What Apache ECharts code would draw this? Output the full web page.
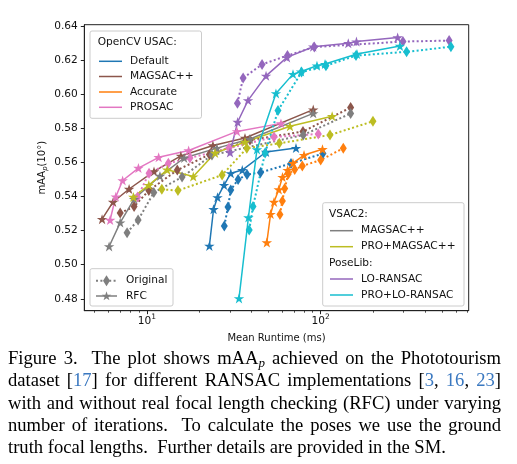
<!DOCTYPE html>
<html><head><meta charset="utf-8">
<script src="https://cdn.jsdelivr.net/npm/echarts@6/dist/echarts.min.js"></script>
<style>
html,body{margin:0;padding:0;background:#fff;}
#chart{position:absolute;left:0;top:0;width:517px;height:464px;}
#cap{position:absolute;left:8px;top:347px;width:493px;font-family:"Liberation Serif","DejaVu Serif",serif;font-size:18.6px;line-height:22.3px;color:#000;}
#cap div{text-align:justify;text-align-last:justify;white-space:normal;height:22.3px;overflow:visible;}
#cap div.last{text-align:left;text-align-last:left;}
#cap .c{color:#3a78c0;}
#cap sub{font-size:70%;line-height:0;vertical-align:-0.25em;}
</style></head><body>
<div id="chart"></div>
<div id="cap">
<div>Figure 3.&nbsp; The plot shows mAA<sub><i>p</i></sub> achieved on the Phototourism</div>
<div>dataset [<span class="c">17</span>] for different RANSAC implementations [<span class="c">3</span>, <span class="c">16</span>, <span class="c">23</span>]</div>
<div>with and without real focal length checking (RFC) under varying</div>
<div>number of iterations.&nbsp; To calculate the poses we use the ground</div>
<div class="last">truth focal lengths.&nbsp; Further details are provided in the SM.</div>
</div>
<script>
// ---- tick values ----
const xTickMajor = [10, 100];
const xTickMinor = [5, 6, 7, 8, 9, 20, 30, 40, 50, 60, 70, 80, 90, 200, 300, 400, 500, 600, 700];
const yTicks = [0.48, 0.50, 0.52, 0.54, 0.56, 0.58, 0.60, 0.62, 0.64];

// ---- OpenCV USAC: Default ----
const defOrigX = [27.9, 29.3, 30.4, 33.5, 37.7, 45.1, 67.5, 103];
const defOrigY = [0.5227, 0.5338, 0.5438, 0.5500, 0.5529, 0.5541, 0.5594, 0.5652];
const defRfcX = [22.9, 24.2, 25.5, 27.8, 30.4, 35.4, 48.5, 72.1];
const defRfcY = [0.5110, 0.5325, 0.5395, 0.5467, 0.5536, 0.5555, 0.5661, 0.5684];
// ---- OpenCV USAC: MAGSAC++ ----
const magOrigX = [7.03, 8.45, 10.27, 14.97, 22.9, 39.2, 79.1, 148.7];
const magOrigY = [0.5303, 0.5341, 0.5435, 0.5555, 0.5646, 0.5731, 0.5781, 0.5922];
const magRfcX = [5.53, 6.40, 7.91, 11.0, 15.7, 24.0, 36.7, 90.6];
const magRfcY = [0.5267, 0.5368, 0.5444, 0.5547, 0.5638, 0.5699, 0.5743, 0.5910];
// ---- OpenCV USAC: Accurate ----
const accOrigX = [58.3, 60.2, 62.1, 65.1, 70.9, 78.4, 100, 134.9];
const accOrigY = [0.5294, 0.5374, 0.5447, 0.5532, 0.5558, 0.5579, 0.5614, 0.5683];
const accRfcX = [49.0, 51.5, 53.9, 57.4, 60.3, 64.5, 69.3, 80.2, 102.4];
const accRfcY = [0.5130, 0.5297, 0.5368, 0.5441, 0.5514, 0.5555, 0.5596, 0.5643, 0.5677];
// ---- OpenCV USAC: PROSAC ----
const proOrigX = [8.85, 10.3, 13.3, 17.7, 29.7, 53.9, 96.9];
const proOrigY = [0.5397, 0.5536, 0.5595, 0.5626, 0.5684, 0.5749, 0.5767];
const proRfcX = [6.15, 6.63, 7.26, 8.95, 11.7, 17.4, 33.0, 59.1];
const proRfcY = [0.5262, 0.5399, 0.5494, 0.5567, 0.5630, 0.5670, 0.5782, 0.5829];
// ---- VSAC2: MAGSAC++ ----
const vmagOrigX = [7.70, 8.91, 10.97, 15.95, 23.7, 79.4, 148.7];
const vmagOrigY = [0.5188, 0.5262, 0.5423, 0.5514, 0.5643, 0.5761, 0.5887];
const vmagRfcX = [6.07, 7.03, 8.45, 11.9, 16.4, 25.3, 39.2, 90.6];
const vmagRfcY = [0.5107, 0.5247, 0.5385, 0.5520, 0.5626, 0.5684, 0.5737, 0.5888];
// ---- VSAC2: PRO+MAGSAC++ ----
const vproOrigX = [12.2, 15.1, 27.1, 37.6, 57.8, 113.1, 199.8];
const vproOrigY = [0.5442, 0.5435, 0.5526, 0.5683, 0.5712, 0.5761, 0.5841];
const vproRfcX = [8.37, 10.27, 13.1, 18.5, 24.7, 36.7, 66.6, 116.4];
const vproRfcY = [0.5397, 0.5467, 0.5557, 0.5517, 0.5655, 0.5720, 0.5812, 0.5871];
// ---- PoseLib: LO-RANSAC ----
const loOrigX = [33.2, 35.8, 46.0, 64.4, 91.9, 297.2, 548];
const loOrigY = [0.5947, 0.6095, 0.6175, 0.6227, 0.6277, 0.6309, 0.6315];
const loRfcX = [30.1, 33.3, 38.2, 48.5, 64.0, 90.6, 144.1, 160.6, 277.1];
const loRfcY = [0.5658, 0.5837, 0.5964, 0.6108, 0.6216, 0.6279, 0.6299, 0.6309, 0.6333];
// ---- PoseLib: PRO+LO-RANSAC ----
const ploOrigX = [38.8, 40.8, 47.9, 56.8, 77.6, 107.2, 159.6, 311.9, 561];
const ploOrigY = [0.5203, 0.5341, 0.5655, 0.5904, 0.6130, 0.6167, 0.6227, 0.6249, 0.6279];
const ploRfcX = [33.9, 38.4, 43.0, 55.3, 69.3, 77.1, 95.2, 105.9, 161.7, 285.6];
const ploRfcY = [0.4802, 0.5277, 0.5676, 0.6005, 0.6118, 0.6133, 0.6167, 0.6177, 0.6236, 0.6283];

const methods = [
  {name: 'Default', color: '#1f77b4', ox: defOrigX, oy: defOrigY, rx: defRfcX, ry: defRfcY},
  {name: 'MAGSAC++ (OpenCV)', color: '#8c564b', ox: magOrigX, oy: magOrigY, rx: magRfcX, ry: magRfcY},
  {name: 'Accurate', color: '#ff7f0e', ox: accOrigX, oy: accOrigY, rx: accRfcX, ry: accRfcY},
  {name: 'PROSAC', color: '#e377c2', ox: proOrigX, oy: proOrigY, rx: proRfcX, ry: proRfcY},
  {name: 'MAGSAC++ (VSAC2)', color: '#7f7f7f', ox: vmagOrigX, oy: vmagOrigY, rx: vmagRfcX, ry: vmagRfcY},
  {name: 'PRO+MAGSAC++', color: '#bcbd22', ox: vproOrigX, oy: vproOrigY, rx: vproRfcX, ry: vproRfcY},
  {name: 'LO-RANSAC', color: '#9467bd', ox: loOrigX, oy: loOrigY, rx: loRfcX, ry: loRfcY},
  {name: 'PRO+LO-RANSAC', color: '#17becf', ox: ploOrigX, oy: ploOrigY, rx: ploRfcX, ry: ploRfcY}
];

const STAR = 'path://M100,0 L122.45,69.1 L195.1,69.1 L136.3,111.8 L158.8,180.9 L100,138.2 L41.2,180.9 L63.7,111.8 L4.9,69.1 L77.55,69.1 Z';
const FONT = '"DejaVu Sans", sans-serif';
const zip = (xs, ys) => xs.map((v, i) => [v, ys[i]]);

const series = [];
methods.forEach(m => {
  series.push({
    name: m.name + ' Original', type: 'line', data: zip(m.ox, m.oy), xAxisIndex: 0,
    symbol: 'diamond', symbolSize: [7, 11], showSymbol: true,
    lineStyle: {color: m.color, width: 2, type: [2, 2.4], cap: 'butt'},
    itemStyle: {color: m.color, borderWidth: 0}, silent: true, animation: false
  });
  series.push({
    name: m.name + ' RFC', type: 'line', data: zip(m.rx, m.ry), xAxisIndex: 0,
    symbol: STAR, symbolSize: 10.5, symbolKeepAspect: true,
    lineStyle: {color: m.color, width: 1.5},
    itemStyle: {color: m.color, borderWidth: 0}, silent: true, animation: false
  });
});

// ---- legend drawing helpers (layout only) ----
const G = [];
function box(x, y, w, h) {
  G.push({type: 'rect', shape: {x, y, width: w, height: h, r: 2}, style: {fill: 'rgba(255,255,255,0.85)', stroke: '#cccccc', lineWidth: 1}, z: 100});
}
function txt(x, y, s) {
  G.push({type: 'text', x, y, style: {text: s, fill: '#111', font: '10.6px ' + FONT, textVerticalAlign: 'middle', verticalAlign: 'middle'}, z: 101});
}
function seg(x1, x2, y, c, dash) {
  G.push({type: 'line', shape: {x1, y1: y, x2, y2: y}, style: {stroke: c, lineWidth: dash ? 2 : 1.5, lineDash: dash ? [2, 2.4] : null}, z: 101});
}
function diamond(cx, cy, c) {
  G.push({type: 'polygon', shape: {points: [[cx, cy - 5.5], [cx + 3.5, cy], [cx, cy + 5.5], [cx - 3.5, cy]]}, style: {fill: c}, z: 102});
}
function star(cx, cy, c) {
  const pts = [];
  for (let i = 0; i < 10; i++) {
    const r = (i % 2 === 0) ? 5 : 1.95;
    const a = -Math.PI / 2 + i * Math.PI / 5;
    pts.push([cx + r * Math.cos(a), cy + 0.3 + r * Math.sin(a)]);
  }
  G.push({type: 'polygon', shape: {points: pts}, style: {fill: c}, z: 102});
}
// Legend 1
box(90, 31, 111.5, 87.3);
txt(97.7, 42.3, 'OpenCV USAC:');
[[61.3, 0, 'Default'], [76.5, 1, 'MAGSAC++'], [92, 2, 'Accurate'], [107.3, 3, 'PROSAC']].forEach(e => {
  seg(99, 122, e[0], methods[e[1]].color, false); txt(130, e[0], e[2]);
});
// Legend 2
box(90, 268.7, 83, 37.3);
seg(96, 117, 280.7, '#7f7f7f', true); diamond(106.5, 280.7, '#7f7f7f'); txt(126, 280.7, 'Original');
seg(96, 117, 296, '#7f7f7f', false); star(106.5, 296, '#7f7f7f'); txt(126, 296, 'RFC');
// Legend 3
box(322.7, 202.7, 141.3, 103.3);
txt(329, 214, 'VSAC2:');
seg(330, 353, 230.7, methods[4].color, false); txt(361, 230.7, 'MAGSAC++');
seg(330, 353, 246.7, methods[5].color, false); txt(361, 246.7, 'PRO+MAGSAC++');
txt(329, 263.3, 'PoseLib:');
seg(330, 353, 279, methods[6].color, false); txt(361, 279, 'LO-RANSAC');
seg(330, 353, 295, methods[7].color, false); txt(361, 295, 'PRO+LO-RANSAC');

const chart = echarts.init(document.getElementById('chart'), null, {renderer: 'canvas'});
chart.setOption({
  animation: false,
  backgroundColor: '#ffffff',
  grid: {left: 84.3, right: 48.3, top: 24.7, bottom: 153.3, show: true, borderColor: '#222', borderWidth: 1, backgroundColor: 'transparent'},
  xAxis: [{
    type: 'log', logBase: 10, min: 4.37, max: 710,
    name: 'Mean Runtime (ms)', nameLocation: 'middle', nameGap: 23, nameMoveOverlap: false,
    nameTextStyle: {fontFamily: FONT, fontSize: 10, color: '#111'},
    axisLine: {show: true, onZero: false, lineStyle: {color: '#222', width: 1}},
    axisTick: {show: true, inside: false, length: 3.5, customValues: xTickMajor, lineStyle: {color: '#222'}},
    axisLabel: {
      show: true, margin: 5, customValues: xTickMajor,
      formatter: v => '{b|10}{s|' + Math.round(Math.log10(v)) + '}',
      rich: {
        b: {fontFamily: FONT, fontSize: 10.6, color: '#111', lineHeight: 11, verticalAlign: 'bottom'},
        s: {fontFamily: FONT, fontSize: 7.5, color: '#111', lineHeight: 8, padding: [0, 0, 6, 0], verticalAlign: 'bottom'}
      }
    },
    splitLine: {show: false}, minorTick: {show: false}, minorSplitLine: {show: false}
  }, {
    type: 'log', logBase: 10, min: 4.37, max: 710, position: 'bottom',
    axisLine: {show: false},
    axisTick: {show: true, inside: false, length: 2, customValues: xTickMinor, lineStyle: {color: '#222', width: 0.8}},
    axisLabel: {show: false}, splitLine: {show: false}
  }],
  yAxis: {
    type: 'value', min: 0.473, max: 0.6408,
    name: 'mAA{p|p}(10°)', nameLocation: 'middle', nameGap: 36, nameRotate: 90, nameMoveOverlap: false,
    nameTextStyle: {
      fontFamily: FONT, fontSize: 10, color: '#111',
      rich: {p: {fontFamily: FONT, fontSize: 7, fontStyle: 'italic', color: '#111', padding: [5, 0, 0, 0]}}
    },
    axisLine: {show: true, lineStyle: {color: '#222', width: 1}},
    axisTick: {show: true, inside: false, length: 3.5, customValues: yTicks, lineStyle: {color: '#222'}},
    axisLabel: {show: true, margin: 6.5, customValues: yTicks, formatter: v => v.toFixed(2), fontFamily: FONT, fontSize: 10.6, color: '#111'},
    splitLine: {show: false}
  },
  series: series,
  graphic: G
});
</script>
</body></html>
